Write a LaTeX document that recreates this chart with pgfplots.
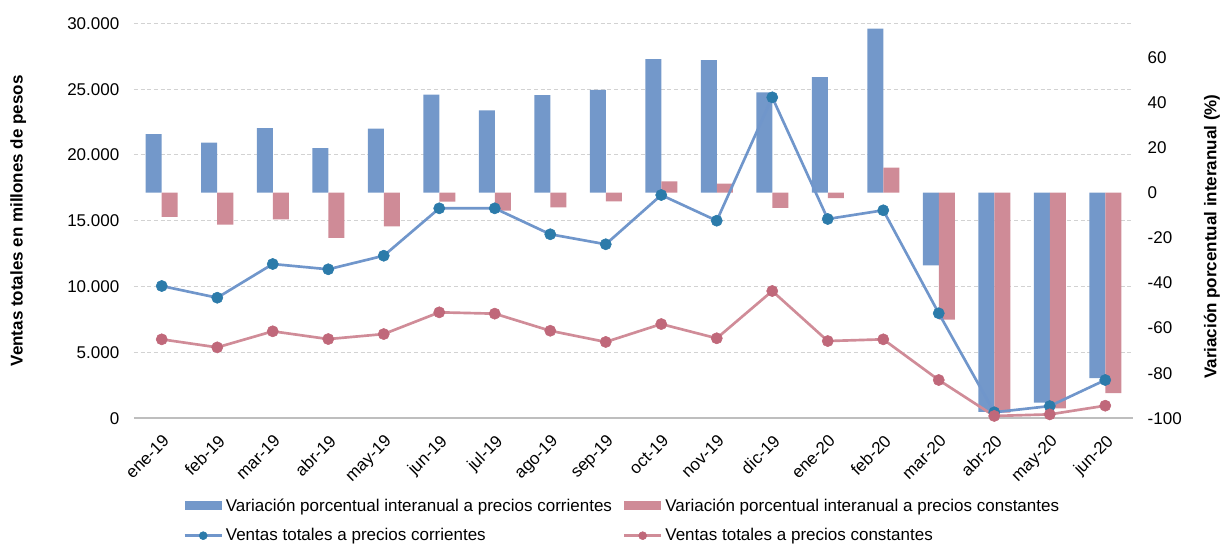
\documentclass[border=0pt]{standalone}
\usepackage{fontspec}
\setmainfont{Liberation Sans}
\usepackage{pgfplots}
\pgfplotsset{compat=1.18}
\usepackage{pgfplotstable}
\definecolor{barblue}{RGB}{115,152,202}
\definecolor{barpink}{RGB}{207,139,151}
\definecolor{lineblue}{RGB}{112,150,203}
\definecolor{markblue}{RGB}{44,123,170}
\definecolor{linepink}{RGB}{208,140,152}
\definecolor{markpink}{RGB}{192,104,122}
\definecolor{gridgray}{RGB}{210,210,210}
\definecolor{axisgray}{RGB}{190,190,190}

\pgfplotstableread{
x blue pink
0 25.9 -10.8
1 22.2 -14.2
2 28.6 -11.9
3 19.7 -20.0
4 28.4 -15.0
5 43.4 -4.0
6 36.4 -8.0
7 43.2 -6.5
8 45.5 -3.9
9 59.1 5.0
10 58.7 4.0
11 44.4 -6.8
12 51.2 -2.4
13 72.7 11.1
14 -32.2 -56.3
15 -97.1 -97.5
16 -93.0 -95.6
17 -82.2 -88.8
}\bars

\pgfplotstableread{
x cur const
0 10050 6000
1 9160 5390
2 11720 6610
3 11320 6020
4 12350 6400
5 15950 8050
6 15950 7950
7 13980 6650
8 13220 5800
9 16960 7160
10 15010 6080
11 24380 9670
12 15140 5870
13 15800 6000
14 7980 2910
15 460 180
16 930 300
17 2910 960
}\sales

\pgfplotsset{
  common/.style={
    width=749.25pt, height=296.25pt, scale only axis,
    xmin=-0.5, xmax=17.5,
    /pgf/number format/assume math mode=true,
    tick label style={font=\fontsize{12.75}{15}\selectfont},
    label style={font=\bfseries\fontsize{12.75}{15}\selectfont},
  },
  barlegend/.style={legend image code/.code={\fill[##1] (0pt,-3.4pt) rectangle (28pt,3.4pt);}},
  linelegend/.style={legend image code/.code={\draw[mark repeat=2,mark phase=2,##1, mark size=3pt] plot coordinates {(0pt,0pt) (14pt,0pt) (28pt,0pt)};}},
}

\begin{document}
\begin{tikzpicture}[font=\fontsize{12.75}{15}\selectfont]
\begin{axis}[common,
  ymin=-100, ymax=75,
  axis x line*=bottom, axis y line*=right,
  x axis line style={axisgray, line width=1.5pt},
  y axis line style={draw=none},
  ytick={-100,-80,...,60},
  ytick style={draw=none},
  yticklabel style={xshift=7.5pt},
  xtick={0,...,17},
  xticklabels={ene-19,feb-19,mar-19,abr-19,may-19,jun-19,jul-19,ago-19,sep-19,oct-19,nov-19,dic-19,ene-20,feb-20,mar-20,abr-20,may-20,jun-20},
  xticklabel style={rotate=45, anchor=north east, inner sep=1pt, yshift=-4pt, xshift=-4pt},
  major x tick style={draw=none},
  extra x ticks={-0.5,0.5,...,17.5},
  extra x tick labels={},
  extra x tick style={major tick length=4pt, tick align=outside, tick style={axisgray, line width=1pt, draw=axisgray}},
  extra y ticks={-70.8333,-41.6667,-12.5,16.6667,45.8333,75},
  extra y tick labels={},
  extra y tick style={grid=major, major grid style={gridgray, line width=0.75pt, dash pattern=on 3pt off 2pt}, tick style={draw=none}},
  ylabel={Variación porcentual interanual (\%)},
  ylabel style={at={(axis description cs:1.079,0.46)}, anchor=center},
  ybar=0pt, bar width=12pt,
]
\addplot[fill=barblue, draw=none] table[x=x, y=blue] {\bars};
\addplot[fill=barpink, draw=none] table[x=x, y=pink] {\bars};
\end{axis}
\begin{axis}[common,
  ymin=0, ymax=30000,
  axis y line*=left, hide x axis,
  y axis line style={draw=none},
  ytick={0,5000,...,30000},
  ytick style={draw=none},
  yticklabel style={xshift=-7.5pt},
  scaled y ticks=false,
  /pgf/number format/1000 sep={.},
  ylabel={Ventas totales en millones de pesos},
  ylabel style={at={(axis description cs:-0.116,0.5)}, anchor=center},
  legend style={draw=none, fill=none, inner sep=0pt, at={(axis description cs:0.049,-0.196)}, anchor=north west,
     font=\fontsize{12.75}{15}\selectfont, row sep=7.5pt, /tikz/every even column/.append style={column sep=6pt}},
  legend columns=2, legend cell align=left,
]
\addlegendimage{barlegend, fill=barblue, draw=none}
\addlegendentry{Variación porcentual interanual a precios corrientes}
\addlegendimage{barlegend, fill=barpink, draw=none}
\addlegendentry{Variación porcentual interanual a precios constantes}
\addplot[linelegend, lineblue, line width=2pt, mark=*, mark size=4.2pt, mark options={fill=markblue, draw=markblue, line width=0.4pt}] table[x=x, y=cur] {\sales};
\addlegendentry{Ventas totales a precios corrientes}
\addplot[linelegend, linepink, line width=2pt, mark=*, mark size=4.2pt, mark options={fill=markpink, draw=markpink, line width=0.4pt}] table[x=x, y=const] {\sales};
\addlegendentry{Ventas totales a precios constantes}
\end{axis}
\pgfresetboundingbox
\useasboundingbox (-100.5pt,-95pt) rectangle (815.25pt,313.75pt);
\end{tikzpicture}
\end{document}
